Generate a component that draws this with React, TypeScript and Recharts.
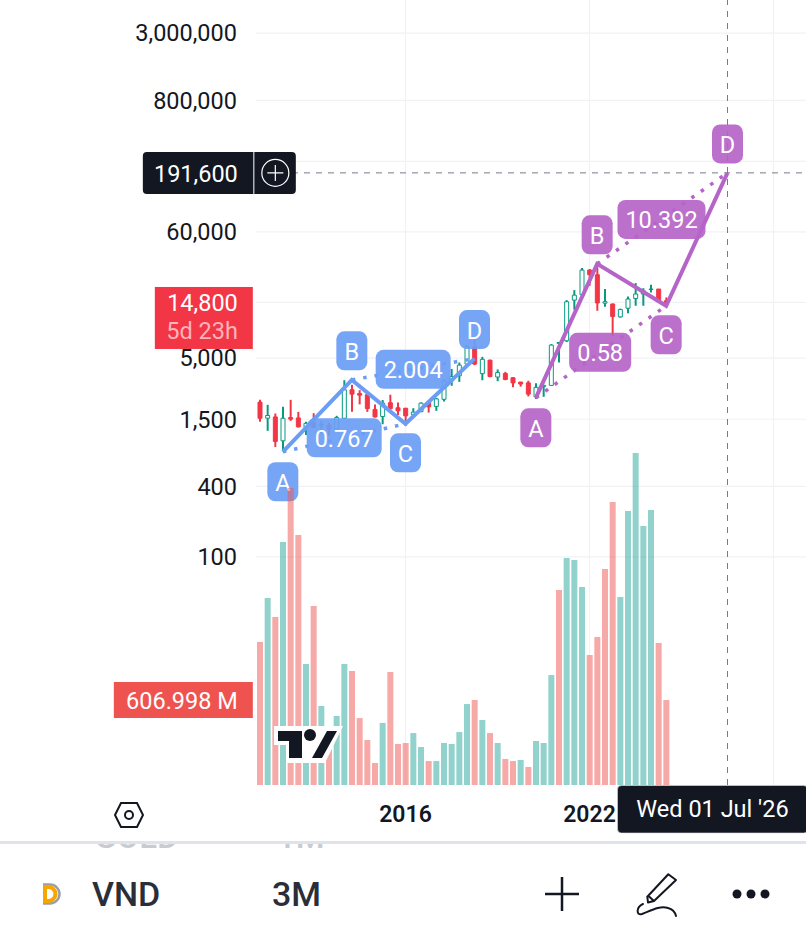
import React from "react";
import {
  Bar,
  CartesianGrid,
  Cell,
  ComposedChart,
  Line,
  ReferenceDot,
  ReferenceLine,
  XAxis,
  YAxis,
} from "recharts";

// 3M candles, one entry per quarter starting 2011 Q2
const opens = [
  2100, 1533, 1570, 981, 1550, 1540, 1280, 1395, 1320, 1335, 1235, 1530, 2680, 2490, 2430, 1820, 1585, 2075,
  1880, 1865, 1640, 1740, 2090, 1930, 2220, 3197, 3528, 4445, 6250, 3680, 4800, 3445, 3690, 3395, 3120, 3070,
  2335, 2850, 2920, 6680, 7030, 15660, 17400, 28280, 25800, 14750, 14500, 11250, 13340, 16180, 17650, 19300,
  19470, 15459,
];
const closes = [
  1530, 1615, 970, 1530, 1505, 1292, 1385, 1280, 1350, 1235, 1550, 2680, 2460, 2410, 1850, 1570, 2060, 1850,
  1771, 1605, 1725, 2060, 1915, 2240, 3197, 3480, 4355, 6250, 4445, 4880, 3480, 3760, 3280, 3070, 3000, 2460,
  2810, 2920, 6460, 6800, 15170, 17260, 28280, 25800, 14800, 15170, 11350, 13000, 15990, 17650, 18825, 19470,
  15459, 14800,
];
const highs = [
  2200, 1993, 1680, 1915, 2199, 1735, 1430, 1690, 1454, 1395, 1605, 3235, 2960, 2660, 2570, 2010, 2190, 2430,
  2090, 1870, 1865, 2090, 2156, 2285, 3280, 4040, 4580, 6460, 7400, 5125, 4850, 4000, 3815, 3430, 3130, 3200,
  3050, 2960, 6580, 6880, 15660, 19060, 29440, 28870, 31870, 19470, 14630, 13240, 16840, 21900, 19800, 21200,
  19500, 16500,
];
const lows = [
  1430, 1194, 870, 805, 1454, 1275, 1098, 1275, 1130, 1082, 1215, 1520, 1735, 2010, 1735, 1550, 1360, 1710,
  1630, 1318, 1605, 1735, 1710, 1771, 2125, 2897, 3130, 4210, 4355, 3235, 3430, 3170, 3235, 2810, 2850, 2350,
  2240, 2335, 2897, 4580, 6850, 12950, 17059, 20773, 12695, 13750, 7710, 11080, 12100, 14009, 14009, 18200,
  15170, 13800,
];

// volume in millions
const volumes = [
  1021, 1335, 1200, 1735, 2120, 1785, 864, 1278, 564, 371, 493, 864, 814, 478, 321, 157, 443, 807, 293, 300,
  371, 271, 171, 171, 300, 293, 378, 578, 607, 464, 371, 300, 186, 171, 179, 129, 314, 300, 785, 1392, 1621,
  1607, 1414, 928, 1057, 1542, 2021, 1342, 1956, 2370, 1849, 1964, 1014, 607,
];
const volumeUp = [
  0, 1, 0, 1, 0, 0, 1, 0, 1, 0, 1, 1, 0, 0, 0, 0, 1, 0, 0, 0, 1, 1, 0, 1, 1, 1, 1, 1, 0, 1, 0, 1, 0, 0, 1, 0, 1,
  1, 1, 0, 1, 1, 1, 0, 0, 0, 0, 1, 1, 1, 1, 1, 0, 0,
];

const priceTicks = [100, 400, 1500, 5000, 15000, 60000, 240000, 800000, 3000000];
const yearTickIndexes = [19, 43, 67];

// [candle index, price, label]
const bluePattern: [number, number, string][] = [
  [3, 791, "A"],
  [12, 3258, "B"],
  [19, 1372, "C"],
  [28, 4950, "D"],
];
const purplePattern: [number, number, string][] = [
  [36, 2287, "A"],
  [44, 31960, "B"],
  [53, 13990, "C"],
  [61, 191600, "D"],
];
const blueRatios: [number, number, string][] = [
  [11, 1040, "0.767"],
  [20, 4010, "2.004"],
];
const purpleRatios: [number, number, string][] = [
  [44, 5600, "0.58"],
  [52, 76700, "10.392"],
];

const SLOTS = 72;
const START_YEAR = 2011;
const START_QUARTER = 1;
const categories = Array.from({ length: SLOTS }, (_, i) => {
  const q = i + START_QUARTER;
  return `${START_YEAR + Math.floor(q / 4)} Q${(q % 4) + 1}`;
});

const FONT = "Roboto, sans-serif";
const BLUE = "#6b9df5";
const PURPLE = "#b564c7";
const RED = "#f23645";
const GREEN = "#089981";
const VOL_RED = "#ef5350";
const VOL_GREEN = "#26a69a";
const INK = "#131722";

const tableData = categories.map((name, i) => {
  const row: Record<string, unknown> = { name };
  if (i < opens.length) {
    row.wick = [lows[i], highs[i]];
    row.body = [Math.min(opens[i], closes[i]), Math.max(opens[i], closes[i])];
    row.volume = volumes[i];
  }
  bluePattern.forEach((p, k) => {
    if (p[0] === i) {
      row.blueLeg = p[1];
      if (k % 2 === 0) row.blueAC = p[1];
      else row.blueBD = p[1];
    }
  });
  purplePattern.forEach((p, k) => {
    if (p[0] === i) {
      row.purpleLeg = p[1];
      if (k % 2 === 0) row.purpleAC = p[1];
      else row.purpleBD = p[1];
    }
  });
  return row;
});

const Pill = ({ cx, cy, text, color, w, dx = 0, dy = 0 }: any) => (
  <g>
    <rect
      x={cx + dx - w / 2}
      y={cy + dy - 19.5}
      width={w}
      height={39}
      rx={8}
      fill={color}
      fillOpacity={0.92}
    />
    <text
      x={cx + dx}
      y={cy + dy + 1}
      fill="#fff"
      fontFamily={FONT}
      fontSize={23.5}
      textAnchor="middle"
      dominantBaseline="central"
    >
      {text}
    </text>
  </g>
);

const letterOffsets: Record<string, number> = { A: 30, B: -29, C: 29, D: -29 };

const patternPills = (points: [number, number, string][], color: string) =>
  points.map(([i, price, label]) => (
    <ReferenceDot
      key={color + label}
      xAxisId="price"
      yAxisId="price"
      x={categories[i]}
      y={price}
      ifOverflow="visible"
      shape={(p: any) => <Pill {...p} text={label} color={color} w={31} dy={letterOffsets[label]} />}
    />
  ));

const ratioPills = (rows: [number, number, string][], color: string, nudge: number) =>
  rows.map(([i, price, label]) => (
    <ReferenceDot
      key={color + label}
      xAxisId="price"
      yAxisId="price"
      x={categories[i]}
      y={price}
      ifOverflow="visible"
      shape={(p: any) => (
        <Pill {...p} text={label} color={color} w={label.length * 13 + 10} dx={nudge} />
      )}
    />
  ));

const AlertTag = ({ cx, cy }: any) => (
  <g fontFamily={FONT}>
    <rect x={cx - 117} y={cy - 21} width={153} height={42} rx={4} fill={INK} />
    <line x1={cx - 6} x2={cx - 6} y1={cy - 21} y2={cy + 21} stroke="#fff" strokeWidth={1} />
    <text x={cx - 22} y={cy + 1} fill="#fff" fontSize={23.5} textAnchor="end" dominantBaseline="central">
      191,600
    </text>
    <circle cx={cx + 15.5} cy={cy} r={13.5} fill="none" stroke="#fff" strokeWidth={1.2} />
    <path d={`M${cx + 7.5} ${cy}H${cx + 23.5}M${cx + 15.5} ${cy - 8}V${cy + 8}`} stroke="#fff" strokeWidth={1.2} />
  </g>
);

const LastPriceTag = ({ cx, cy }: any) => (
  <g fontFamily={FONT}>
    <rect x={cx - 105} y={cy - 16} width={98} height={62} fill={RED} />
    <text x={cx - 22} y={cy + 0} fill="#fff" fontSize={23.5} textAnchor="end" dominantBaseline="central">
      14,800
    </text>
    <text x={cx - 22} y={cy + 28} fill="#ffb3ba" fontSize={23.5} textAnchor="end" dominantBaseline="central">
      5d 23h
    </text>
  </g>
);

const VolumeTag = ({ cx, cy }: any) => (
  <g fontFamily={FONT}>
    <rect x={cx - 146} y={cy - 18} width={139} height={36} fill={VOL_RED} />
    <text x={cx - 22} y={cy + 1} fill="#fff" fontSize={23.5} textAnchor="end" dominantBaseline="central">
      606.998 M
    </text>
  </g>
);

const DateTag = ({ cx, cy }: any) => (
  <g fontFamily={FONT}>
    <rect x={cx - 110} y={cy + 0.5} width={190} height={47.5} rx={4} fill={INK} stroke="#d9dbe2" strokeWidth={0.6} />
    <text x={cx - 15} y={cy + 24} fill="#fff" fontSize={23.5} textAnchor="middle" dominantBaseline="central">
      Wed 01 Jul '26
    </text>
  </g>
);

const Logo = () => (
  <svg style={{ position: "absolute", left: 272, top: 724 }} width={72} height={42}>
    <path d="M2 2H71L53 39H14V21H2Z" fill="#fff" />
    <path d="M6 7H30V34H17V17H6Z" fill={INK} />
    <circle cx={38} cy={11} r={6} fill={INK} />
    <path d="M55 7H65L50 34H40Z" fill={INK} />
  </svg>
);

const textBase: React.CSSProperties = {
  position: "absolute",
  fontFamily: FONT,
  fontWeight: 500,
  lineHeight: "40px",
  whiteSpace: "nowrap",
};

const Toolbar = () => (
  <>
    <svg style={{ position: "absolute", left: 112, top: 800 }} width={34} height={30}>
      <path d="M9 3H25L31 15L25 27H9L3 15Z" fill="none" stroke={INK} strokeWidth={2} />
      <circle cx={17} cy={15} r={4} fill="none" stroke={INK} strokeWidth={2} />
    </svg>
    <div style={{ position: "absolute", left: 0, top: 841, width: 806, height: 95, background: "#fff", overflow: "hidden" }}>
      <div style={{ position: "absolute", left: 0, top: 0, width: 806, height: 3, background: "#e0e3eb", zIndex: 1 }} />
      <div style={{ ...textBase, fontSize: 33, left: 94, top: -24, color: "#c9cbd1" }}>GOLD</div>
      <div style={{ ...textBase, fontSize: 33, left: 277, top: -24, color: "#c9cbd1" }}>1M</div>
      <div style={{ ...textBase, fontSize: 34, left: 92, top: 33, color: "#2a2e39" }}>VND</div>
      <div style={{ ...textBase, fontSize: 34, left: 272, top: 33, color: "#2a2e39" }}>3M</div>
    </div>
    <svg style={{ position: "absolute", left: 0, top: 841 }} width={806} height={95}>
      <path d="M43 43.5H50A9.5 9.5 0 0 1 50 62.5H43" fill="none" stroke="#9b9ea6" strokeWidth={2.5} />
      <path d="M45 46H48.5A6.5 6.5 0 0 1 48.5 60H45Z" fill="#fff" stroke="#f7a600" strokeWidth={4} />
      <path d="M562 36V70M545 53H579" stroke={INK} strokeWidth={2.5} />
      <path
        d="M668.3 33.3L676 39L654 60L648 61.5L647.3 55.7ZM649.3 55.7L654 60M643 63C636 66 636 75 642 73C650 70 660 64 668 67C672 68 675 71 676 75"
        fill="none"
        stroke={INK}
        strokeWidth={2}
        strokeLinejoin="round"
        strokeLinecap="round"
      />
      <circle cx={737} cy={53} r={4.5} fill={INK} />
      <circle cx={751} cy={53} r={4.5} fill={INK} />
      <circle cx={765} cy={53} r={4.5} fill={INK} />
    </svg>
  </>
);

const App = () => (
  <div style={{ position: "absolute", left: 0, top: 0, width: 806, height: 936, overflow: "hidden", background: "#fff" }}>
    <ComposedChart
      width={809}
      height={936}
      data={tableData}
      margin={{ top: 0, right: 1, bottom: 91, left: 1 }}
      barGap={0}
    >
      <CartesianGrid xAxisId="price" yAxisId="price" stroke="#f1f2f6" strokeWidth={1.2} syncWithTicks />
      <XAxis
        xAxisId="price"
        dataKey="name"
        height={60}
        ticks={yearTickIndexes.map((i) => categories[i])}
        interval={0}
        tickFormatter={(v: string) => v.slice(0, 4)}
        axisLine={false}
        tickLine={false}
        tickSize={0}
        tickMargin={-9}
        tick={{ fontFamily: FONT, fontSize: 23, fontWeight: 600, fill: INK }}
      />
      <XAxis xAxisId="vol" dataKey="name" hide />
      <XAxis xAxisId="wick" dataKey="name" hide />
      <XAxis xAxisId="body" dataKey="name" hide />
      <YAxis
        yAxisId="price"
        orientation="left"
        width={255}
        scale="log"
        domain={[1.12, 5760000]}
        allowDataOverflow
        ticks={priceTicks}
        interval={0}
        tickFormatter={(v: number) => v.toLocaleString("en-US")}
        axisLine={false}
        tickLine={false}
        tickSize={0}
        tickMargin={19}
        tick={{ fontFamily: FONT, fontSize: 23.5, fill: INK }}
      />
      <YAxis yAxisId="vol" hide domain={[0, 5605]} allowDataOverflow />

      <Bar xAxisId="vol" yAxisId="vol" dataKey="volume" barSize={6} isAnimationActive={false} zIndex={900}>
        {volumes.map((_, i) => (
          <Cell key={i} fill={volumeUp[i] ? VOL_GREEN : VOL_RED} fillOpacity={0.5} />
        ))}
      </Bar>
      <Bar xAxisId="wick" yAxisId="price" dataKey="wick" barSize={2} isAnimationActive={false}>
        {opens.map((o, i) => (
          <Cell key={i} fill={closes[i] >= o ? GREEN : RED} />
        ))}
      </Bar>
      <Bar xAxisId="body" yAxisId="price" dataKey="body" barSize={4} isAnimationActive={false}>
        {opens.map((o, i) => (
          <Cell
            key={i}
            fill={closes[i] >= o ? "#fff" : RED}
            stroke={closes[i] >= o ? GREEN : RED}
            strokeWidth={1}
          />
        ))}
      </Bar>

      <ReferenceLine
        xAxisId="price"
        yAxisId="price"
        y={191600}
        stroke="#787b86"
        strokeDasharray="6 6"
        strokeWidth={1}
      />
      <ReferenceLine
        xAxisId="price"
        yAxisId="price"
        x={categories[61]}
        stroke="#787b86"
        strokeDasharray="6 6"
        strokeWidth={1}
      />

      <Line xAxisId="price" yAxisId="price" dataKey="blueLeg" stroke={BLUE} strokeWidth={4} connectNulls dot={false} isAnimationActive={false} />
      <Line xAxisId="price" yAxisId="price" dataKey="blueAC" stroke={BLUE} strokeWidth={3.5} strokeDasharray="3.5 8" connectNulls dot={false} isAnimationActive={false} />
      <Line xAxisId="price" yAxisId="price" dataKey="blueBD" stroke={BLUE} strokeWidth={3.5} strokeDasharray="3.5 8" connectNulls dot={false} isAnimationActive={false} />
      <Line xAxisId="price" yAxisId="price" dataKey="purpleLeg" stroke={PURPLE} strokeWidth={4} connectNulls dot={false} isAnimationActive={false} />
      <Line xAxisId="price" yAxisId="price" dataKey="purpleAC" stroke={PURPLE} strokeWidth={3.5} strokeDasharray="3.5 8" connectNulls dot={false} isAnimationActive={false} />
      <Line xAxisId="price" yAxisId="price" dataKey="purpleBD" stroke={PURPLE} strokeWidth={3.5} strokeDasharray="3.5 8" connectNulls dot={false} isAnimationActive={false} />

      {patternPills(bluePattern, BLUE)}
      {patternPills(purplePattern, PURPLE)}
      {ratioPills(blueRatios, BLUE, 0)}
      {ratioPills(purpleRatios, PURPLE, 3)}

      <ReferenceDot zIndex={3000} xAxisId="price" yAxisId="price" x={categories[0]} y={191600} ifOverflow="visible" shape={(p: any) => <AlertTag {...p} />} />
      <ReferenceDot zIndex={3000} xAxisId="price" yAxisId="price" x={categories[0]} y={14800} ifOverflow="visible" shape={(p: any) => <LastPriceTag {...p} />} />
      <ReferenceDot zIndex={3000} xAxisId="price" yAxisId="vol" x={categories[0]} y={607} ifOverflow="visible" shape={(p: any) => <VolumeTag {...p} />} />
      <ReferenceDot zIndex={3000} xAxisId="price" yAxisId="price" x={categories[61]} y={1.12} ifOverflow="visible" shape={(p: any) => <DateTag {...p} />} />
    </ComposedChart>
    <Logo />
    <Toolbar />
  </div>
);

export default App;
